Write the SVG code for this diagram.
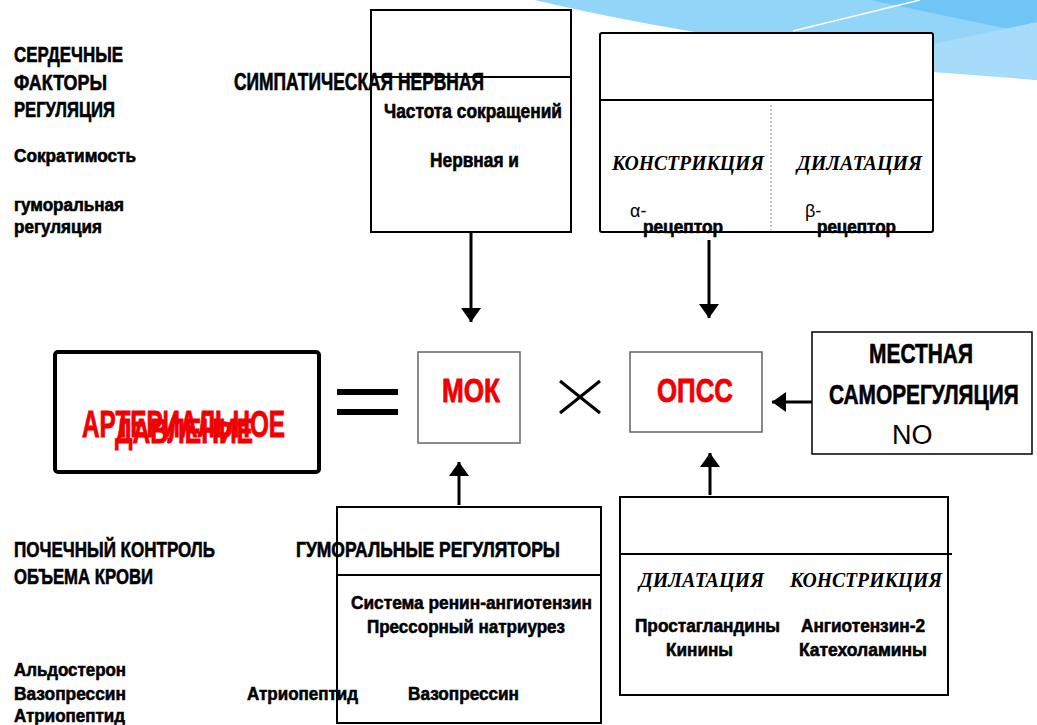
<svg xmlns="http://www.w3.org/2000/svg" width="1037" height="725" viewBox="0 0 1037 725">
<style>
.b{font-family:"Liberation Sans",Arial,sans-serif;font-weight:bold;fill:#000;stroke:#000;stroke-width:0.6}
.r{fill:#f00000;stroke:#f00000;stroke-width:0.9}
.s{font-family:"Liberation Serif","Times New Roman",serif;font-weight:bold;font-style:italic;fill:#000;font-size:20px}
.n{font-family:"Liberation Sans",Arial,sans-serif;fill:#000}
.box{fill:#fff;stroke:#000;stroke-width:2}
.gbox{fill:#fff;stroke:#666;stroke-width:1.5}
.ln{stroke:#000;stroke-width:2;fill:none}
.arr{stroke:#000;stroke-width:3;fill:none}
</style>
<defs>
<marker id="ah" viewBox="0 0 14 20" refX="14" refY="10" markerWidth="14" markerHeight="20" markerUnits="userSpaceOnUse" orient="auto">
<path d="M0,0 L14,10 L0,20 Z" fill="#000"/>
</marker>
</defs>
<rect width="1037" height="725" fill="#fff"/>
<g id="decor">
<path d="M535,0 Q700,40 1037,80 L1037,0 Z" fill="#93d5f8"/>
<path d="M870,0 L1037,0 L1037,35 Z" fill="#6fc6f6"/>
<path d="M933,44 L1037,22 L1037,80 L933,72 Z" fill="#a6dcf9"/>
<line x1="793" y1="31" x2="920" y2="0" stroke="#fff" stroke-width="1.5"/>
</g>
<g id="left-texts">
<text class="b" x="14" y="62" font-size="22" textLength="109" lengthAdjust="spacingAndGlyphs">СЕРДЕЧНЫЕ</text>
<text class="b" x="14" y="90" font-size="22" textLength="93" lengthAdjust="spacingAndGlyphs">ФАКТОРЫ</text>
<text class="b" x="14" y="117" font-size="22" textLength="101" lengthAdjust="spacingAndGlyphs">РЕГУЛЯЦИЯ</text>
<text class="b" x="14" y="162" font-size="18" textLength="122" lengthAdjust="spacingAndGlyphs">Сократимость</text>
<text class="b" x="14" y="211" font-size="18" textLength="110" lengthAdjust="spacingAndGlyphs">гуморальная</text>
<text class="b" x="14" y="233" font-size="18" textLength="88" lengthAdjust="spacingAndGlyphs">регуляция</text>
<text class="b" x="14" y="557" font-size="22" textLength="201" lengthAdjust="spacingAndGlyphs">ПОЧЕЧНЫЙ КОНТРОЛЬ</text>
<text class="b" x="14" y="584" font-size="22" textLength="139" lengthAdjust="spacingAndGlyphs">ОБЪЕМА КРОВИ</text>
<text class="b" x="14" y="676" font-size="19" textLength="112" lengthAdjust="spacingAndGlyphs">Альдостерон</text>
<text class="b" x="14" y="700" font-size="19" textLength="112" lengthAdjust="spacingAndGlyphs">Вазопрессин</text>
<text class="b" x="14" y="722" font-size="19" textLength="111" lengthAdjust="spacingAndGlyphs">Атриопептид</text>
</g>
<g id="sympathetic">
<rect class="box" x="371" y="10" width="200" height="222"/>
<line class="ln" x1="371" y1="77" x2="571" y2="77"/>
<text class="b" x="234" y="90" font-size="23" textLength="250" lengthAdjust="spacingAndGlyphs">СИМПАТИЧЕСКАЯ  НЕРВНАЯ</text>
<text class="b" x="384" y="118" font-size="20" textLength="178" lengthAdjust="spacingAndGlyphs">Частота сокращений</text>
<text class="b" x="430" y="167" font-size="20" textLength="89" lengthAdjust="spacingAndGlyphs">Нервная  и</text>
</g>
<g id="receptors">
<rect class="box" x="600" y="33" width="333" height="199" rx="2"/>
<line class="ln" x1="600" y1="100" x2="933" y2="100"/>
<line x1="771" y1="105" x2="771" y2="230" stroke="#888" stroke-width="1" stroke-dasharray="2,2"/>
<text class="s" x="612" y="170" textLength="152" lengthAdjust="spacingAndGlyphs">КОНСТРИКЦИЯ</text>
<text class="s" x="797" y="170" textLength="125" lengthAdjust="spacingAndGlyphs">ДИЛАТАЦИЯ</text>
<text class="n" x="630" y="217" font-size="18">α-</text>
<text class="n" x="805" y="217" font-size="18">β-</text>
<text class="b" x="643" y="233" font-size="18" textLength="80" lengthAdjust="spacingAndGlyphs">рецептор</text>
<text class="b" x="817" y="233" font-size="18" textLength="79" lengthAdjust="spacingAndGlyphs">рецептор</text>
</g>
<g id="ad">
<rect x="55" y="352" width="264" height="120" rx="3" fill="#fff" stroke="#000" stroke-width="4"/>
<text class="b r" x="82" y="437" font-size="36" textLength="203" lengthAdjust="spacingAndGlyphs">АРТЕРИАЛЬНОЕ</text>
<text class="b r" x="115" y="443" font-size="35" textLength="138" lengthAdjust="spacingAndGlyphs">ДАВЛЕНИЕ</text>
</g>
<g id="equals">
<rect x="337" y="389" width="61" height="6" fill="#000"/>
<rect x="337" y="409" width="61" height="6" fill="#000"/>
</g>
<g id="mok">
<rect class="gbox" x="418" y="352" width="102" height="91"/>
<text class="b r" x="442" y="402" font-size="34" textLength="58" lengthAdjust="spacingAndGlyphs">МОК</text>
</g>
<g id="times">
<line x1="560" y1="381" x2="600" y2="413" stroke="#000" stroke-width="3"/>
<line x1="600" y1="381" x2="560" y2="413" stroke="#000" stroke-width="3"/>
</g>
<g id="opss">
<rect class="gbox" x="630" y="352" width="132" height="80"/>
<text class="b r" x="657" y="402" font-size="34" textLength="76" lengthAdjust="spacingAndGlyphs">ОПСС</text>
</g>
<g id="local">
<rect x="812" y="332" width="220" height="122" fill="#fff" stroke="#000" stroke-width="1.5"/>
<text class="b" x="869" y="363" font-size="28" textLength="104" lengthAdjust="spacingAndGlyphs">МЕСТНАЯ</text>
<text class="b" transform="translate(829,404) scale(0.75,1)" x="0" y="0" font-size="28" textLength="253" lengthAdjust="spacingAndGlyphs">САМОРЕГУЛЯЦИЯ</text>
<text class="n" x="892" y="444" font-size="27">NO</text>
</g>
<g id="humoral">
<rect class="box" x="337" y="507" width="264" height="216"/>
<line class="ln" x1="337" y1="575" x2="601" y2="575"/>
<text class="b" x="296" y="557" font-size="22" textLength="264" lengthAdjust="spacingAndGlyphs">ГУМОРАЛЬНЫЕ  РЕГУЛЯТОРЫ</text>
<text class="b" x="351" y="609" font-size="19" textLength="241" lengthAdjust="spacingAndGlyphs">Система ренин-ангиотензин</text>
<text class="b" x="367" y="633" font-size="19" textLength="198" lengthAdjust="spacingAndGlyphs">Прессорный натриурез</text>
<text class="b" x="247" y="700" font-size="19" textLength="111" lengthAdjust="spacingAndGlyphs">Атриопептид</text>
<text class="b" x="408" y="700" font-size="19" textLength="111" lengthAdjust="spacingAndGlyphs">Вазопрессин</text>
</g>
<g id="vascular">
<rect class="box" x="620" y="497" width="328" height="198"/>
<line class="ln" x1="620" y1="554" x2="952" y2="554"/>
<text class="s" x="639" y="587" textLength="125" lengthAdjust="spacingAndGlyphs">ДИЛАТАЦИЯ</text>
<text class="s" x="790" y="587" textLength="152" lengthAdjust="spacingAndGlyphs">КОНСТРИКЦИЯ</text>
<text class="b" x="635" y="632" font-size="19" textLength="145" lengthAdjust="spacingAndGlyphs">Простагландины</text>
<text class="b" x="801" y="632" font-size="19" textLength="124" lengthAdjust="spacingAndGlyphs">Ангиотензин-2</text>
<text class="b" x="666" y="656" font-size="19" textLength="67" lengthAdjust="spacingAndGlyphs">Кинины</text>
<text class="b" x="799" y="656" font-size="19" textLength="128" lengthAdjust="spacingAndGlyphs">Катехоламины</text>
</g>
<g id="connectors">
<line class="arr" x1="471" y1="232" x2="471" y2="322" marker-end="url(#ah)"/>
<line class="arr" x1="709" y1="240" x2="709" y2="318" marker-end="url(#ah)"/>
<line class="arr" x1="812" y1="402" x2="772" y2="402" marker-end="url(#ah)"/>
<line class="arr" x1="459" y1="505" x2="459" y2="462" marker-end="url(#ah)"/>
<line class="arr" x1="710" y1="495" x2="710" y2="453" marker-end="url(#ah)"/>
</g>
</svg>
